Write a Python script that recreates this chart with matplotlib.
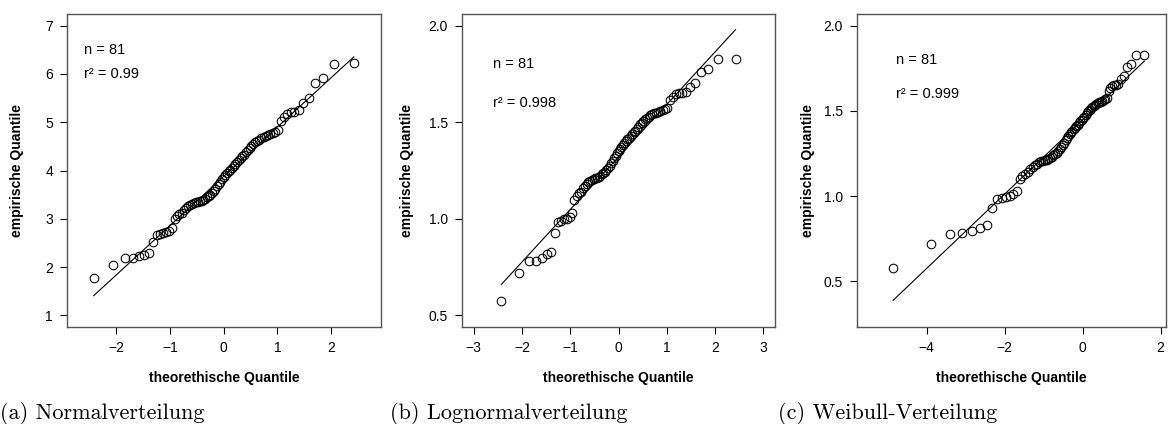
import numpy as np
import matplotlib
matplotlib.use("Agg")
import matplotlib.pyplot as plt
from statistics import NormalDist

plt.rcParams['font.family'] = ['Liberation Sans', 'DejaVu Sans']

# sorted sample (81 values)
werte = [1.78, 2.05, 2.18, 2.19, 2.22, 2.26, 2.29, 2.53, 2.67, 2.69,
         2.71, 2.72, 2.75, 2.80, 3.00, 3.06, 3.10, 3.13, 3.18, 3.22,
         3.26, 3.29, 3.31, 3.33, 3.34, 3.35, 3.36, 3.37, 3.39, 3.42,
         3.45, 3.47, 3.50, 3.54, 3.58, 3.62, 3.67, 3.72, 3.77, 3.82,
         3.87, 3.91, 3.95, 3.99, 4.02, 4.06, 4.10, 4.13, 4.17, 4.21,
         4.25, 4.29, 4.33, 4.38, 4.43, 4.47, 4.51, 4.55, 4.58, 4.61,
         4.64, 4.67, 4.69, 4.71, 4.73, 4.75, 4.77, 4.80, 4.83, 5.03,
         5.11, 5.18, 5.21, 5.22, 5.25, 5.39, 5.50, 5.81, 5.91, 6.21,
         6.23]

# reference lines (intercept, slope)
linie_a = (3.88, 1.02)
linie_b = (1.32, 0.272)
linie_c = (1.447, 0.2177)

r2_texte = ["r\u00b2 = 0.99", "r\u00b2 = 0.998", "r\u00b2 = 0.999"]
captions = ["(a) Normalverteilung", "(b) Lognormalverteilung", "(c) Weibull-Verteilung"]

n = len(werte)
y_werte = np.array(werte)
i = np.arange(1, n + 1)
p = (i - 3/8) / (n + 1/4)
q_norm = np.array([NormalDist().inv_cdf(v) for v in p])
q_weib = np.log(-np.log(1 - p))
y_log = np.log(y_werte)

fig = plt.figure(figsize=(11.69, 4.24), dpi=100)
W, H = 1169, 424
boxes = [(67, 381), (462, 775), (857, 1166)]
top, bottom = 14, 327

panels = [
    (q_norm, y_werte, linie_a, (-2.92, 2.93), (0.76, 7.24), [-2, -1, 0, 1, 2], [1, 2, 3, 4, 5, 6, 7],
     (-2.6, 6.5, 6.0), -0.159),
    (q_norm, y_log, linie_b, (-3.24, 3.24), (0.44, 2.06), [-3, -2, -1, 0, 1, 2, 3], [0.5, 1.0, 1.5, 2.0],
     (-2.6, 1.8, 1.6), -0.176),
    (q_weib, y_log, linie_c, (-5.79, 2.14), (0.232, 2.068), [-4, -2, 0, 2], [0.5, 1.0, 1.5, 2.0],
     (-4.8, 1.8, 1.6), -0.159),
]

for k, (qx, qy, lin, xl, yl, xt, yt, txt, ylab_x) in enumerate(panels):
    l, r = boxes[k]
    ax = fig.add_axes([l / W, 1 - bottom / H, (r - l) / W, (bottom - top) / H])
    ax.plot(qx, qy, 'o', mfc='none', mec='black', ms=6.2, mew=0.75)
    xs = np.array([qx[0], qx[-1]])
    ax.plot(xs, lin[0] + lin[1] * xs, color='black', lw=0.8)
    ax.set_xlim(xl)
    ax.set_ylim(yl)
    ax.set_xticks(xt)
    ax.set_yticks(yt)
    if k == 0:
        ax.set_yticklabels([str(v) for v in yt])
    else:
        ax.set_yticklabels(["%.1f" % v for v in yt])
    ax.set_xticklabels([str(v).replace('-', '\u2212') for v in xt])
    ax.tick_params(direction='out', length=5, width=0.8, pad=5, labelsize=10)
    for s in ax.spines.values():
        s.set_color('#555555')
        s.set_linewidth(1.0)
    ax.set_xlabel("theorethische Quantile", fontsize=10, fontweight='bold')
    ax.set_ylabel("empirische Quantile", fontsize=10, fontweight='bold', va='center')
    ax.xaxis.set_label_coords(0.5, -0.14)
    ax.yaxis.set_label_coords(ylab_x, 0.5)
    ax.text(txt[0], txt[1], "n = 81", fontsize=10.5, ha='left', va='center')
    ax.text(txt[0], txt[2], r2_texte[k], fontsize=10.5, ha='left', va='center')

cap_x = [0, 390, 778]
for k, c in enumerate(captions):
    fig.text(cap_x[k] / W, 5 / H, c, fontsize=16, family=['cmr10', 'DejaVu Serif'],
             ha='left', va='baseline')

fig.savefig("out.png", dpi=100)
